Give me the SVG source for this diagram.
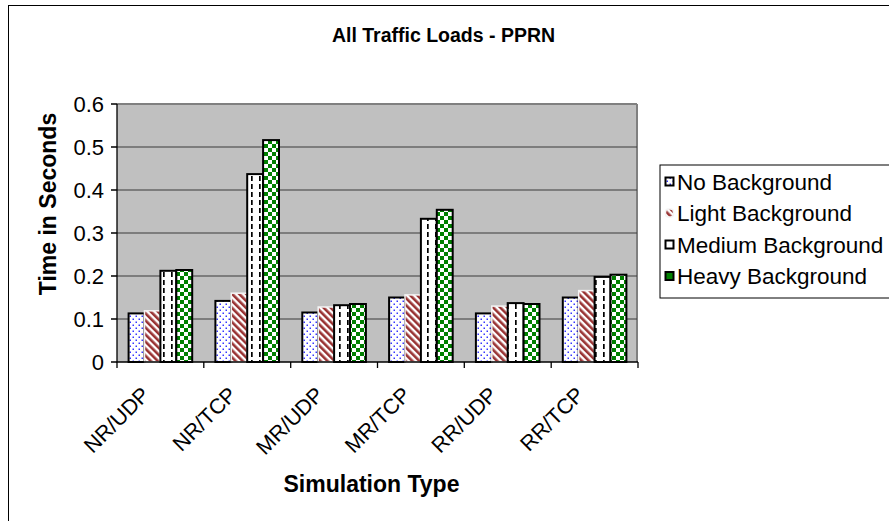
<svg xmlns="http://www.w3.org/2000/svg" width="889" height="521" viewBox="0 0 889 521">
  <style>
    .title { font-family: "Liberation Sans", Arial, sans-serif; font-weight: bold; font-size: 19.5px; fill: #000; }
    .axt { font-family: "Liberation Sans", Arial, sans-serif; font-weight: bold; font-size: 23px; fill: #000; }
    .tick { font-family: "Liberation Sans", Arial, sans-serif; font-size: 22px; fill: #000; }
    .cat { font-family: "Liberation Sans", Arial, sans-serif; font-size: 21.5px; fill: #000; }
    .leg { font-family: "Liberation Sans", Arial, sans-serif; font-size: 22.5px; fill: #000; }
    .grid { stroke: #3a3a3a; stroke-width: 1; }
    .axis { stroke: #000; stroke-width: 1.3; fill: none; }
    .none { fill: url(#dots); stroke: #000; stroke-width: 2; }
    .light { fill: url(#stripes); stroke: #f4f4f4; stroke-width: 1.5; }
    .medium { fill: url(#dashes); stroke: #000; stroke-width: 2; }
    .heavy { fill: url(#checks); stroke: #000; stroke-width: 2; }
  </style>
  <defs>
    <pattern id="dots" width="6" height="6" patternUnits="userSpaceOnUse">
      <rect width="6" height="6" fill="#fff"/>
      <rect x="0.5" y="0.5" width="1.5" height="1.5" fill="#3535ff"/>
      <rect x="3.5" y="3.5" width="1.5" height="1.5" fill="#3535ff"/>
    </pattern>
    <pattern id="stripes" width="5" height="5" patternUnits="userSpaceOnUse" patternTransform="rotate(-45)">
      <rect width="5" height="5" fill="#fff"/>
      <rect width="2.6" height="5" fill="#993333"/>
    </pattern>
    <pattern id="dashes" width="8" height="8" patternUnits="userSpaceOnUse">
      <rect width="8" height="8" fill="#fff"/>
      <rect x="3" y="0" width="1.7" height="5" fill="#000"/>
    </pattern>
    <pattern id="checks" width="8" height="8" patternUnits="userSpaceOnUse">
      <rect width="8" height="8" fill="#fff"/>
      <rect x="0" y="0" width="4" height="4" fill="#008000"/>
      <rect x="4" y="4" width="4" height="4" fill="#008000"/>
    </pattern>
  </defs>

  <!-- chart area -->
  <rect x="0" y="0" width="889" height="521" fill="#fff"/>
  <rect x="8.5" y="5.5" width="900" height="600" fill="none" stroke="#000" stroke-width="1"/>

  <text class="title" x="443.5" y="42" text-anchor="middle">All Traffic Loads - PPRN</text>

  <!-- plot area -->
  <g id="plot">
    <rect x="117" y="104" width="521" height="258" fill="#c0c0c0"/>
    <line x1="117" y1="104" x2="637" y2="104" stroke="#808080" stroke-width="2"/>
    <line x1="637" y1="104" x2="637" y2="362" stroke="#808080" stroke-width="2"/>
    <g class="grid">
      <line x1="117" y1="147" x2="637" y2="147"/>
      <line x1="117" y1="190" x2="637" y2="190"/>
      <line x1="117" y1="233" x2="637" y2="233"/>
      <line x1="117" y1="276" x2="637" y2="276"/>
      <line x1="117" y1="319" x2="637" y2="319"/>
    </g>
  </g>

  <!-- bars per simulation type -->
  <g id="NR-UDP">
    <rect class="none" x="128.6" y="313.4" width="15.9" height="48.6"/>
    <rect class="light" x="144.5" y="310.8" width="15.9" height="51.2"/>
    <rect class="medium" x="160.4" y="270.8" width="15.9" height="91.2"/>
    <rect class="heavy" x="176.3" y="270.0" width="15.9" height="92"/>
  </g>
  <g id="NR-TCP">
    <rect class="none" x="215.4" y="300.9" width="15.9" height="61.1"/>
    <rect class="light" x="231.3" y="293.2" width="15.9" height="68.8"/>
    <rect class="medium" x="247.2" y="174.1" width="15.9" height="187.9"/>
    <rect class="heavy" x="263.1" y="140.1" width="15.9" height="221.9"/>
  </g>
  <g id="MR-UDP">
    <rect class="none" x="302.3" y="312.5" width="15.9" height="49.5"/>
    <rect class="light" x="318.2" y="307.0" width="15.9" height="55"/>
    <rect class="medium" x="334.1" y="305.2" width="15.9" height="56.8"/>
    <rect class="heavy" x="350.0" y="304.0" width="15.9" height="58"/>
  </g>
  <g id="MR-TCP">
    <rect class="none" x="389.1" y="297.5" width="15.9" height="64.5"/>
    <rect class="light" x="405.0" y="294.9" width="15.9" height="67.1"/>
    <rect class="medium" x="420.9" y="218.8" width="15.9" height="143.2"/>
    <rect class="heavy" x="436.8" y="209.8" width="15.9" height="152.2"/>
  </g>
  <g id="RR-UDP">
    <rect class="none" x="475.9" y="313.4" width="15.9" height="48.6"/>
    <rect class="light" x="491.8" y="306.1" width="15.9" height="55.9"/>
    <rect class="medium" x="507.7" y="303.1" width="15.9" height="58.9"/>
    <rect class="heavy" x="523.6" y="304.0" width="15.9" height="58"/>
  </g>
  <g id="RR-TCP">
    <rect class="none" x="562.8" y="297.5" width="15.9" height="64.5"/>
    <rect class="light" x="578.7" y="290.6" width="15.9" height="71.4"/>
    <rect class="medium" x="594.6" y="276.9" width="15.9" height="85.1"/>
    <rect class="heavy" x="610.5" y="274.7" width="15.9" height="87.3"/>
  </g>

  <!-- axes and ticks -->
  <g id="axes">
    <path class="axis" d="M117,104 V362 H638"/>
    <path class="axis" d="M111,104 H117 M111,147 H117 M111,190 H117 M111,233 H117 M111,276 H117 M111,319 H117 M111,362 H117"/>
    <path class="axis" d="M117,362 V368 M203.8,362 V368 M290.7,362 V368 M377.5,362 V368 M464.3,362 V368 M551.2,362 V368 M638,362 V368"/>
  </g>

  <g id="y-labels" class="tick" text-anchor="end">
    <text x="104" y="112">0.6</text>
    <text x="104" y="155">0.5</text>
    <text x="104" y="198">0.4</text>
    <text x="104" y="241">0.3</text>
    <text x="104" y="284">0.2</text>
    <text x="104" y="327">0.1</text>
    <text x="104" y="370">0</text>
  </g>

  <g id="x-labels" class="cat" text-anchor="end">
    <text transform="translate(151,396) rotate(-45)">NR/UDP</text>
    <text transform="translate(238,396) rotate(-45)">NR/TCP</text>
    <text transform="translate(325,396) rotate(-45)">MR/UDP</text>
    <text transform="translate(412,396) rotate(-45)">MR/TCP</text>
    <text transform="translate(498.5,396) rotate(-45)">RR/UDP</text>
    <text transform="translate(585.5,396) rotate(-45)">RR/TCP</text>
  </g>

  <text class="axt" x="371.5" y="492" text-anchor="middle">Simulation Type</text>
  <text class="axt" transform="translate(55.5,204) rotate(-90)" text-anchor="middle">Time in Seconds</text>

  <!-- legend -->
  <g id="legend">
    <rect x="660" y="165" width="240" height="133" fill="#fff" stroke="#000" stroke-width="1"/>
    <g id="legend-none">
      <rect class="none" x="665.5" y="177.5" width="8" height="8"/>
      <text class="leg" x="677" y="189.5">No Background</text>
    </g>
    <g id="legend-light">
      <rect class="light" x="665.5" y="209" width="8" height="8" rx="3"/>
      <text class="leg" x="677" y="221">Light Background</text>
    </g>
    <g id="legend-medium">
      <rect x="665.5" y="240.5" width="8" height="8" fill="#fff" stroke="#000" stroke-width="2"/>
      <text class="leg" x="677" y="252.5">Medium Background</text>
    </g>
    <g id="legend-heavy">
      <rect class="heavy" x="665.5" y="272" width="8" height="8" style="fill:#008000"/>
      <text class="leg" x="677" y="284">Heavy Background</text>
    </g>
  </g>
</svg>
